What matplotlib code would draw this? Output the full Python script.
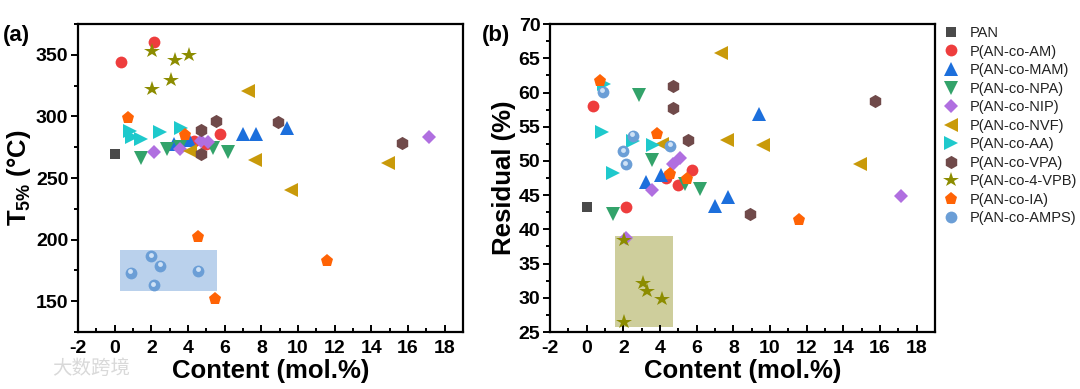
import matplotlib.pyplot as plt
import matplotlib.transforms as mtransforms
from matplotlib.patches import Rectangle
from matplotlib.ticker import MultipleLocator

plt.rcParams['font.family'] = ['Liberation Sans', 'DejaVu Sans']
plt.rcParams['axes.unicode_minus'] = False
plt.rcParams['mathtext.fontset'] = 'custom'
plt.rcParams['mathtext.rm'] = 'Liberation Sans:bold'
plt.rcParams['mathtext.it'] = 'Liberation Sans:bold'
plt.rcParams['mathtext.bf'] = 'Liberation Sans:bold'

# data: content (mol.%), T5% (degC), residual (%)
names = ['PAN', 'P(AN-co-AM)', 'P(AN-co-MAM)', 'P(AN-co-NPA)', 'P(AN-co-NIP)',
         'P(AN-co-NVF)', 'P(AN-co-AA)', 'P(AN-co-VPA)', 'P(AN-co-4-VPB)',
         'P(AN-co-IA)', 'P(AN-co-AMPS)']

pan_x = [0.0]
pan_t = [269.5]
pan_r = [43.3]

am_x = [0.36, 2.15, 4.35, 5.0, 5.72]
am_t = [344.6, 360.5, 280.0, 278.0, 285.6]
am_r = [58.1, 43.2, 47.5, 46.5, 48.7]

mam_x = [3.26, 4.07, 7.02, 7.69, 9.38]
mam_t = [278.0, 281.0, 285.5, 286.0, 291.0]
mam_r = [46.9, 47.9, 43.4, 44.7, 56.8]

npa_x = [1.45, 2.84, 3.57, 5.36, 6.2]
npa_t = [266.0, 273.5, 275.0, 274.5, 271.5]
npa_r = [42.3, 59.7, 50.2, 46.7, 45.9]

nip_x = [2.15, 3.57, 4.7, 5.1, 17.15]
nip_t = [271.0, 273.5, 280.0, 279.5, 283.5]
nip_r = [38.8, 45.8, 49.6, 50.4, 44.9]

nvf_x = [4.1, 7.3, 7.65, 9.6, 14.9]
nvf_t = [272.0, 320.5, 265.0, 240.0, 262.5]
nvf_r = [52.5, 65.8, 53.0, 52.4, 49.6]

aa_x = [0.85, 0.95, 1.45, 2.5, 3.62]
aa_t = [288.5, 283.0, 282.0, 287.5, 291.0]
aa_r = [54.3, 61.2, 48.3, 52.9, 52.4]

vpa_x = [4.7, 4.7, 5.55, 8.93, 15.7]
vpa_t = [289.0, 269.5, 296.5, 295.5, 278.5]
vpa_r = [61.0, 57.7, 53.0, 42.3, 58.8]

vpb_x = [2.03, 2.03, 3.06, 3.31, 4.08]
vpb_t = [322.5, 353.5, 329.5, 346.0, 350.0]
vpb_r = [38.4, 26.4, 32.1, 31.0, 29.8]

ia_x = [0.75, 3.86, 4.56, 5.47, 11.58]
ia_t = [299.0, 285.0, 201.8, 152.0, 182.3]
ia_r = [61.7, 54.0, 48.1, 47.4, 41.3]

amps_x = [0.87, 2.0, 2.12, 2.5, 4.56]
amps_t = [173.0, 186.5, 163.0, 179.0, 174.5]
amps_r = [60.1, 51.4, 49.5, 53.7, 52.2]

# highlighted regions (x0, x1, y0, y1)
box_a = [0.3, 5.6, 158.0, 191.8]
box_b = [1.54, 4.71, 25.7, 39.1]

series = [
    (pan_x, pan_t, pan_r, 's', '#4a4a4a', 7),
    (am_x, am_t, am_r, 'o', '#ee3d3d', 8.5),
    (mam_x, mam_t, mam_r, '^', '#1c6fdc', 9.5),
    (npa_x, npa_t, npa_r, 'v', '#33a36a', 9.5),
    (nip_x, nip_t, nip_r, 'D', '#b06fe0', 7.5),
    (nvf_x, nvf_t, nvf_r, '<', '#c99a0a', 9.5),
    (aa_x, aa_t, aa_r, '>', '#1ec9cc', 9.5),
    (vpa_x, vpa_t, vpa_r, 'h', '#704a4a', 9.5),
    (vpb_x, vpb_t, vpb_r, '*', '#8c8c00', 11.5),
    (ia_x, ia_t, ia_r, 'p', '#ff6305', 9.5),
    (amps_x, amps_t, amps_r, 'o', '#6b9ed6', 8.5),
]

fig = plt.figure(figsize=(10.8, 3.89), dpi=100)
ax1 = fig.add_axes([0.0722, 0.1465, 0.3565, 0.7915])
ax2 = fig.add_axes([0.5093, 0.1465, 0.3565, 0.7915])

for ax, box, color, alpha in [(ax1, box_a, '#a9c6e8', 0.8), (ax2, box_b, '#b5b567', 0.65)]:
    ax.add_patch(Rectangle((box[0], box[2]), box[1] - box[0], box[3] - box[2],
                           facecolor=color, edgecolor='none', alpha=alpha, zorder=1))

handles = []
for ax, col in [(ax1, 1), (ax2, 2)]:
    for i, s in enumerate(series):
        xs, ys = s[0], s[col]
        ln, = ax.plot(xs, ys, linestyle='none', marker=s[3], color=s[4],
                      markersize=s[5], markeredgewidth=0, zorder=3)
        if i == 10:
            # little highlight to mimic the sphere symbol
            off = mtransforms.ScaledTranslation(-0.5 / 72, 1.2 / 72, fig.dpi_scale_trans)
            ax.plot(xs, ys, linestyle='none', marker='o', color='#cfe2f6',
                    markersize=3.5, markeredgewidth=0, zorder=4,
                    transform=ax.transData + off)
        if ax is ax1:
            handles.append(ln)

ax1.set_ylim(125, 375)
ax1.yaxis.set_major_locator(MultipleLocator(50))
ax1.yaxis.set_minor_locator(MultipleLocator(25))
ax1.set_yticks([150, 200, 250, 300, 350])
ax1.set_ylabel(r'T$_{5\%}$ (°C)', fontsize=18.5, fontweight='bold', labelpad=2)

ax2.set_ylim(25, 70)
ax2.yaxis.set_major_locator(MultipleLocator(5))
ax2.yaxis.set_minor_locator(MultipleLocator(2.5))
ax2.set_ylabel('Residual (%)', fontsize=18.5, fontweight='bold', labelpad=2)

for ax in (ax1, ax2):
    ax.set_xlim(-2, 19)
    ax.xaxis.set_major_locator(MultipleLocator(2))
    ax.xaxis.set_minor_locator(MultipleLocator(1))
    ax.set_xlabel('Content (mol.%)', fontsize=18.5, fontweight='bold', labelpad=1)
    for sp in ax.spines.values():
        sp.set_linewidth(1.6)
    ax.tick_params(axis='x', which='both', direction='in', top=False, width=1.4,
                   labelsize=14, pad=6)
    ax.tick_params(axis='x', which='major', length=5)
    ax.tick_params(axis='x', which='minor', length=3)
    ax.tick_params(axis='y', which='both', direction='out', right=False, width=1.4,
                   labelsize=14, pad=2)
    ax.tick_params(axis='y', which='major', length=5)
    ax.tick_params(axis='y', which='minor', length=3)
    for lab in ax.get_xticklabels() + ax.get_yticklabels():
        lab.set_fontweight('bold')

fig.text(0.003, 0.91, '(a)', fontsize=16, fontweight='bold', va='center')
fig.text(0.446, 0.91, '(b)', fontsize=16, fontweight='bold', va='center')

fig.legend(handles, names, loc='upper left', bbox_to_anchor=(0.868, 0.948),
           frameon=False, fontsize=10.5, handlelength=1.0, handletextpad=0.8,
           labelspacing=0.31, borderaxespad=0, labelcolor='#222222')

# faint watermark in the lower-left corner
fig.text(0.048, 0.052, '大数跨境', fontsize=14, color='#d9d9d9', va='center',
         family=['Noto Sans CJK SC', 'DejaVu Sans'])

fig.savefig('out.png', dpi=100)
